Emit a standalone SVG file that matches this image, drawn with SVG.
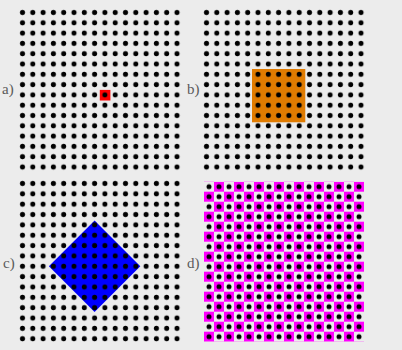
<svg xmlns="http://www.w3.org/2000/svg" width="402" height="350" viewBox="0 0 402 350">
  <style>
    .lbl { font-family: "Liberation Serif", "DejaVu Serif", serif; font-size: 15px; fill: #5a5a5a; }
  </style>
  <defs>
    <pattern id="dotsA" patternUnits="userSpaceOnUse" x="17.35" y="7.35" width="10.3" height="10.3">
      <circle cx="5.15" cy="5.15" r="2.5" fill="#000"/>
    </pattern>
    <pattern id="dotsB" patternUnits="userSpaceOnUse" x="201.35" y="7.35" width="10.3" height="10.3">
      <circle cx="5.15" cy="5.15" r="2.5" fill="#000"/>
    </pattern>
    <pattern id="dotsC" patternUnits="userSpaceOnUse" x="17.35" y="178.3" width="10.3" height="10.35">
      <circle cx="5.15" cy="5.175" r="2.5" fill="#000"/>
    </pattern>
    <pattern id="dotsD" patternUnits="userSpaceOnUse" x="204" y="181.7" width="10" height="10">
      <circle cx="5" cy="5" r="2.5" fill="#000"/>
    </pattern>
    <pattern id="checkD" patternUnits="userSpaceOnUse" x="204" y="181.7" width="20" height="20">
      <rect x="10" y="0" width="10" height="10" fill="#ff00ff"/>
      <rect x="0" y="10" width="10" height="10" fill="#ff00ff"/>
    </pattern>
  </defs>
  <rect width="402" height="350" fill="#ececec"/>

  <g id="panel-a">
    <rect x="99.8" y="89.9" width="10.6" height="10.6" fill="#ff0000"/>
    <rect x="17.35" y="7.35" width="164.8" height="164.8" fill="url(#dotsA)"/>
    <text class="lbl" x="2" y="94">a)</text>
  </g>

  <g id="panel-b">
    <rect x="252" y="69" width="53.3" height="53.3" fill="#e07b00"/>
    <rect x="201.35" y="7.35" width="164.8" height="164.8" fill="url(#dotsB)"/>
    <text class="lbl" x="187" y="94">b)</text>
  </g>

  <g id="panel-c">
    <polygon points="94.6,220.6 140.3,266.3 94.6,312 48.9,266.3" fill="#0000ff"/>
    <rect x="17.35" y="178.3" width="164.8" height="165.6" fill="url(#dotsC)"/>
    <text class="lbl" x="3" y="268">c)</text>
  </g>

  <g id="panel-d">
    <rect x="204" y="181.7" width="160" height="160" fill="url(#checkD)"/>
    <rect x="204" y="181.7" width="160" height="160" fill="url(#dotsD)"/>
    <text class="lbl" x="187" y="268">d)</text>
  </g>
</svg>
